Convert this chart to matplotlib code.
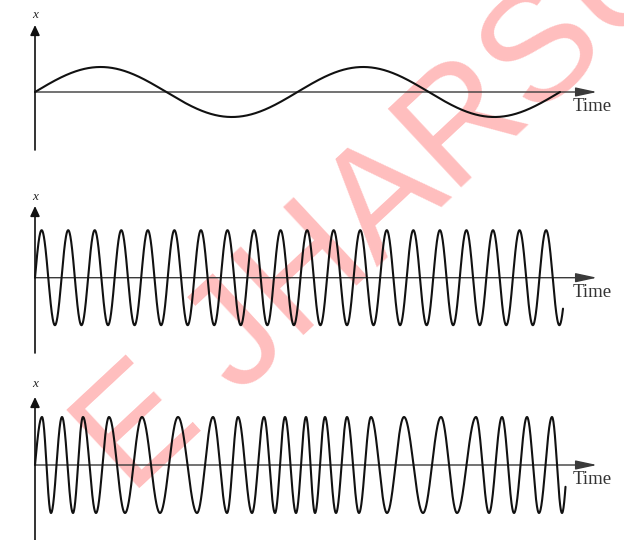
import numpy as np
import matplotlib
matplotlib.use("Agg")
import matplotlib.pyplot as plt

W, H = 624, 540

# ---- data (time in arbitrary units, 0 at the vertical axis) ----
axis_label = "x"
time_label = "Time"
amplitudes = [25, 47.5, 48]          # panel 1, 2, 3
t_end = [525, 528, 530.5]            # where each waveform stops
periods = [262.5, 26.55]             # constant periods of panels 1 and 2
# panel 3: frequency-modulated wave, times of maxima and minima
fm_peaks = [7, 27, 48, 74, 107, 143, 178, 203, 229, 250, 271, 290, 312,
            336, 369, 406, 441, 467, 492, 517]
fm_troughs = [16, 38, 61, 90, 125, 162, 192, 217, 240, 261, 280, 301, 324,
              352, 388, 422, 454, 479, 504, 527]
t_axis_end = 562
watermark = "E JHARSU"

# ---- layout (pixel bands: top, bottom, axis line, arrow tip, axis bottom, label) ----
bands = [(0, 180, 92, 25, 150, 15),
         (180, 370, 277.7, 206, 353, 197),
         (370, 540, 465, 397, 545, 384)]

fig = plt.figure(figsize=(W / 100, H / 100), dpi=100)
fig.patch.set_facecolor("white")

axis_color = "#3a3a3a"
serif = ["Liberation Serif", "DejaVu Serif"]


def fm_wave(t):
    kt = [0.0]
    kp = [0.0]
    for i, (p, q) in enumerate(zip(fm_peaks, fm_troughs)):
        kt += [p, q]
        kp += [np.pi / 2 + 2 * np.pi * i, 3 * np.pi / 2 + 2 * np.pi * i]
    slope = np.pi / (fm_troughs[-1] - fm_peaks[-1])
    kt.append(t_end[2])
    kp.append(kp[-1] + slope * (t_end[2] - fm_troughs[-1]))
    return np.sin(np.interp(t, kt, kp))


for idx, (top, bot, mid, tip, vbot, lab) in enumerate(bands):
    ax = fig.add_axes([0, 1 - bot / H, 1, (bot - top) / H])
    ax.set_xlim(-35, W - 35)
    ax.set_ylim(-(bot - mid), mid - top)
    ax.axis("off")

    t = np.linspace(0, t_end[idx], 4000)
    if idx < 2:
        y = np.sin(2 * np.pi * t / periods[idx])
    else:
        y = fm_wave(t)
    ax.plot(t, amplitudes[idx] * y, color="#111111", lw=1.5,
            solid_capstyle="round", zorder=3)

    # horizontal (time) axis with arrow
    ax.annotate("", xy=(t_axis_end, 0), xytext=(0, 0),
                arrowprops=dict(arrowstyle="-|>,head_length=1.3,head_width=0.28",
                                color=axis_color, lw=1.0, shrinkA=0, shrinkB=0),
                zorder=2)
    # vertical (x) axis with arrow
    ax.annotate("", xy=(0, mid - tip), xytext=(0, mid - vbot),
                arrowprops=dict(arrowstyle="-|>,head_length=0.6,head_width=0.28",
                                color="#111111", lw=1.2, shrinkA=0, shrinkB=0),
                zorder=2)
    ax.text(0, mid - lab, axis_label, ha="center", va="center",
            fontsize=9.5, style="italic", family=serif, color="#222222")
    ax.text(538, -15, time_label, ha="left", va="center",
            fontsize=13.5, family=serif, color="#333333")

fig.text(384 / W, 1 - 205 / H, watermark, rotation=43, ha="center",
         va="center", rotation_mode="anchor", fontsize=112,
         fontweight="normal", family=["Liberation Sans", "DejaVu Sans"],
         color=(1.0, 0.0, 0.0, 0.26), zorder=-1)

fig.savefig("out.png", dpi=100, facecolor="white")
